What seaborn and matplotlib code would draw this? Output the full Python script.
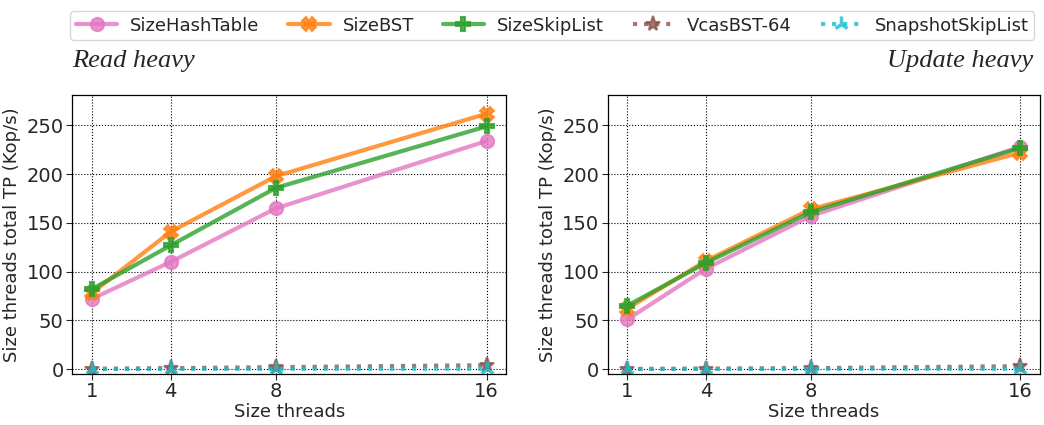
import numpy as np
import pandas as pd
import matplotlib
matplotlib.use("Agg")
import matplotlib.pyplot as plt
import seaborn as sns

# values
threads = [1, 4, 8, 16]
series = ["SizeHashTable", "SizeBST", "SizeSkipList", "VcasBST-64", "SnapshotSkipList"]

read_hash = [72, 110, 165, 234]
read_bst = [78, 141, 198, 262]
read_skip = [82, 127, 186, 249]
read_vcas = [0.3, 1, 2, 4]
read_snap = [0.1, 0.2, 0.3, 0.5]

upd_hash = [51, 103, 157, 228]
upd_bst = [62, 111, 164, 222]
upd_skip = [65, 109, 161, 227]
upd_vcas = [0.2, 0.5, 1, 3]
upd_snap = [0.1, 0.2, 0.3, 0.4]

colors = ["#e377c2", "#ff7f0e", "#2ca02c", "#8c564b", "#17becf"]
markers = ["o", "X", "P", "*", "2"]
dashes = ["-", "-", "-", ":", ":"]


def make_df(vals):
    rows = []
    for name, v in zip(series, vals):
        for t, y in zip(threads, v):
            rows.append({"threads": t, "tp": y, "impl": name})
    return pd.DataFrame(rows)


read_df = make_df([read_hash, read_bst, read_skip, read_vcas, read_snap])
upd_df = make_df([upd_hash, upd_bst, upd_skip, upd_vcas, upd_snap])

sns.set_style("white")
plt.rcParams["font.family"] = ["DejaVu Sans"]

fig = plt.figure(figsize=(10.44, 4.25), dpi=100)
ax1 = fig.add_axes([0.069, 0.12, 0.416, 0.656])
ax2 = fig.add_axes([0.582, 0.12, 0.414, 0.656])

for ax, df in [(ax1, read_df), (ax2, upd_df)]:
    for i, name in enumerate(series):
        sub = df[df["impl"] == name]
        sns.lineplot(data=sub, x="threads", y="tp", ax=ax, color=colors[i],
                     marker=markers[i], linestyle=dashes[i], linewidth=3,
                     markersize=9.5 if i < 3 else 11, markeredgewidth=1.5 if i < 4 else 2.5,
                     markeredgecolor=colors[i], alpha=0.8, label=name, legend=False)
    ax.set_xticks(threads)
    ax.set_xlim(0.25, 16.75)
    ax.set_ylim(-5, 281)
    ax.set_yticks([0, 50, 100, 150, 200, 250])
    ax.grid(True, color="black", linestyle=":", linewidth=0.8)
    ax.tick_params(labelsize=14, length=4, pad=2, bottom=True, left=True)
    ax.set_xlabel("Size threads", fontsize=13, labelpad=1)
    ax.set_ylabel("Size threads total TP (Kop/s)", fontsize=13, labelpad=4)
    for s in ax.spines.values():
        s.set_color("black")
        s.set_linewidth(0.9)

fig.text(0.069, 0.842, "Read heavy", family="Liberation Serif", style="italic",
         fontsize=19, ha="left", va="baseline")
fig.text(0.99, 0.842, "Update heavy", family="Liberation Serif", style="italic",
         fontsize=19, ha="right", va="baseline")

handles, labels = ax1.get_legend_handles_labels()
fig.legend(handles, labels, loc="upper center", bbox_to_anchor=(0.529, 0.995),
           ncol=5, fontsize=13, frameon=True, columnspacing=1.6, handlelength=2.3,
           handletextpad=0.7, borderpad=0.3)

fig.savefig("out.png", dpi=100)
